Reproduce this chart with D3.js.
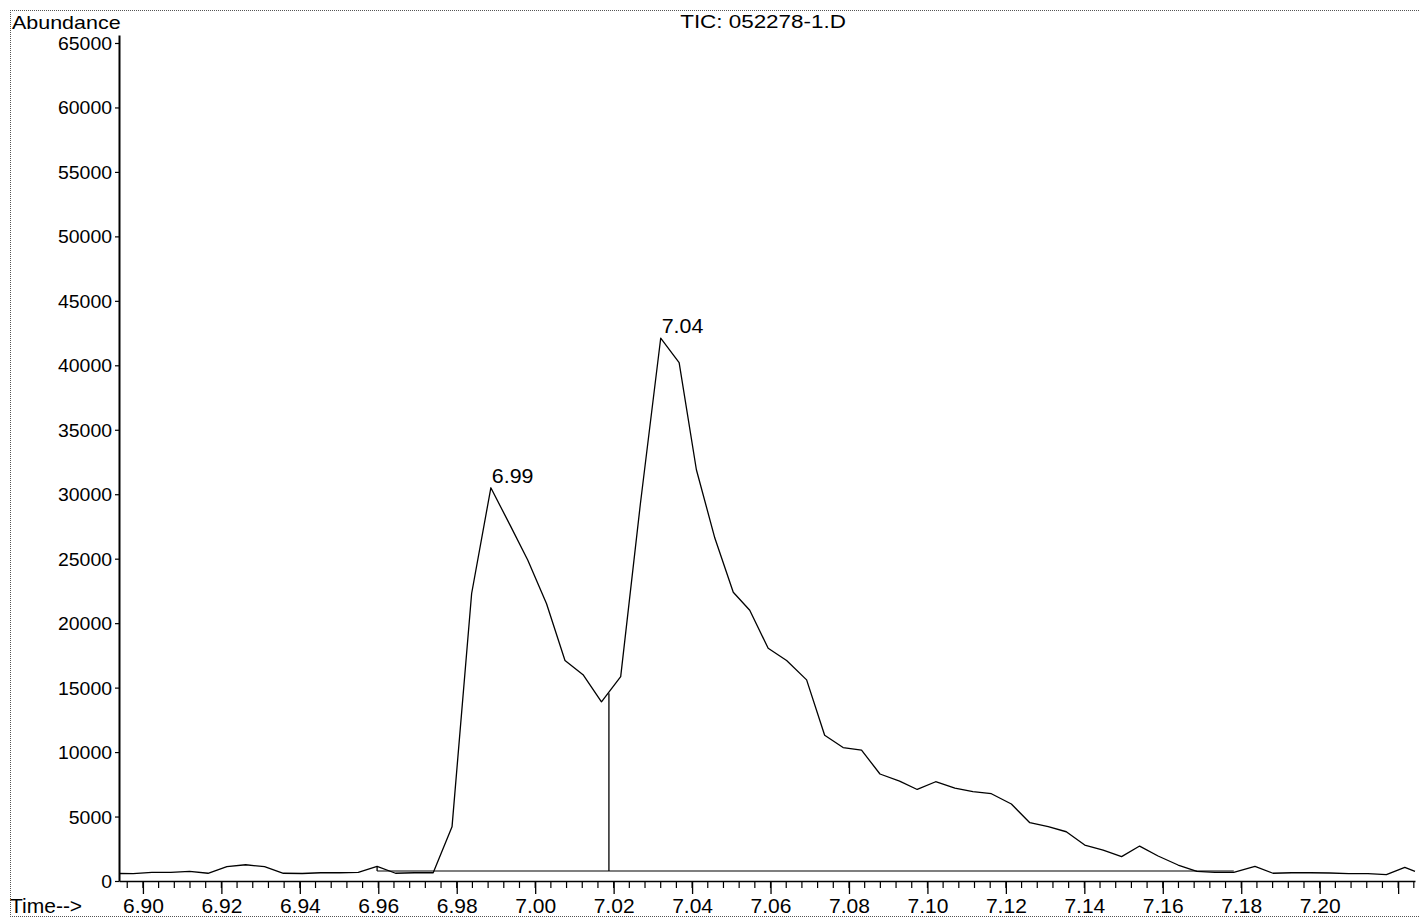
<!DOCTYPE html>
<html><head><meta charset="utf-8">
<script src="https://cdn.jsdelivr.net/npm/d3@7"></script>
<style>
html,body{margin:0;padding:0;background:#fff;}
svg{display:block;}
text{font-family:"Liberation Sans",Arial,Helvetica,sans-serif;fill:#000;}
</style></head><body>
<svg id="chart" width="1420" height="918"></svg>
<script>
// ---- data ----
const times = [6.8939,6.8975,6.9023,6.9071,6.9119,6.9166,6.9214,6.9262,6.9310,6.9358,
  6.9406,6.9453,6.9501,6.9549,6.9597,6.9644,6.9692,6.9740,6.9788,6.9838,
  6.9887,6.9936,6.9981,7.0029,7.0076,7.0122,7.0169,7.0218,7.0268,7.0320,
  7.0367,7.0411,7.0458,7.0505,7.0547,7.0594,7.0641,7.0692,7.0738,7.0785,
  7.0832,7.0879,7.0929,7.0974,7.1021,7.1070,7.1116,7.1163,7.1214,7.1261,
  7.1308,7.1354,7.1401,7.1448,7.1495,7.1541,7.1588,7.1639,7.1687,7.1733,
  7.1781,7.1835,7.1881,7.1929,7.1977,7.2026,7.2074,7.2123,7.2170,7.2217,7.2243];
const abundance = [580,570,670,670,750,600,1110,1260,1110,600,
  580,640,640,675,1140,600,640,640,4200,22300,
  30500,27600,24900,21500,17100,16000,13900,15850,29200,42100,
  40200,31900,26600,22400,21000,18050,17100,15600,11300,10350,
  10150,8300,7750,7100,7700,7200,6930,6770,5970,4520,
  4210,3820,2790,2400,1890,2710,1940,1240,740,675,
  675,1140,600,640,640,620,570,570,490,1060,740];
const yTickValues = [0,5000,10000,15000,20000,25000,30000,35000,40000,45000,50000,55000,60000,65000];
const xMajorTicks = [6.90,6.92,6.94,6.96,6.98,7.00,7.02,7.04,7.06,7.08,7.10,7.12,7.14,7.16,7.18,7.20,7.22];
const xTickLabels = ["6.90","6.92","6.94","6.96","6.98","7.00","7.02","7.04","7.06","7.08","7.10","7.12","7.14","7.16","7.18","7.20",""];
const peakTimes = [6.9887, 7.0320];
const peakAbund = [30500, 42100];
const peakLabels = ["6.99", "7.04"];
const baselineTimes = [6.9597, 7.1781];
const baselineAbund = [770, 770];
const dropTimes = [6.9597, 7.0188];
const dropTops = [1140, 14560];
const titleText = "TIC: 052278-1.D";
const yAxisTitle = "Abundance";
const xAxisTitle = "Time-->";

// ---- drawing ----
const svg = d3.select("#chart");
const x = d3.scaleLinear().domain([6.8939, 7.2243]).range([119, 1415]);
const y = d3.scaleLinear().domain([0, 65620]).range([881, 35]);

function stretch(sel, sx) {
  sel.each(function() {
    const t = d3.select(this);
    const tx = +t.attr("x") || 0;
    const ty = +t.attr("y") || 0;
    t.attr("x", 0).attr("y", 0).attr("transform", `translate(${tx},${ty}) scale(${sx},1)`);
  });
}

// dotted frame
const frame = svg.append("g").attr("stroke", "#555").attr("stroke-width", 1).attr("stroke-dasharray", "1,1");
frame.append("line").attr("x1", 10).attr("x2", 1419).attr("y1", 10.5).attr("y2", 10.5);
frame.append("line").attr("x1", 10.5).attr("x2", 10.5).attr("y1", 10).attr("y2", 917);
frame.append("line").attr("x1", 10).attr("x2", 1419).attr("y1", 916.5).attr("y2", 916.5);

// y axis
const yAxis = svg.append("g").attr("transform", "translate(119,0)")
  .call(d3.axisLeft(y).tickValues(yTickValues).tickSize(4).tickSizeOuter(0).tickPadding(3).tickFormat(d3.format("d")));
yAxis.select(".domain").attr("stroke-width", 2);
yAxis.selectAll(".tick line").attr("stroke-width", 1.2);
yAxis.selectAll("text").attr("font-size", 18).attr("font-family", '"Liberation Sans",Arial,sans-serif').attr("dy", "0.36em");
stretch(yAxis.selectAll("text"), 1.08);

// x axis
const xAxis = svg.append("g").attr("transform", "translate(0,881)")
  .call(d3.axisBottom(x).tickValues(xMajorTicks).tickSize(13).tickSizeOuter(0).tickPadding(4)
    .tickFormat((d, i) => xTickLabels[i]));
xAxis.select(".domain").attr("stroke-width", 1.5);
xAxis.selectAll(".tick line").attr("stroke-width", 1.3);
xAxis.selectAll("text").attr("font-size", 21).attr("font-family", '"Liberation Sans",Arial,sans-serif');
// minor ticks every 0.004
const minor = d3.range(0, 84).map(i => 6.896 + i * 0.004).filter(v => v >= 6.8939 && v <= 7.2245);
svg.append("g").selectAll("line").data(minor).join("line")
  .attr("x1", d => x(d)).attr("x2", d => x(d)).attr("y1", 881).attr("y2", 888)
  .attr("stroke", "#000").attr("stroke-width", 1.2);

// integration baseline and drop lines
svg.append("line")
  .attr("x1", x(baselineTimes[0])).attr("x2", x(baselineTimes[1]))
  .attr("y1", y(baselineAbund[0])).attr("y2", y(baselineAbund[1]))
  .attr("stroke", "#000").attr("stroke-width", 1.1);
svg.append("g").selectAll("line").data(dropTimes).join("line")
  .attr("x1", d => x(d)).attr("x2", d => x(d))
  .attr("y1", (d, i) => y(dropTops[i])).attr("y2", y(baselineAbund[0]))
  .attr("stroke", "#000").attr("stroke-width", 1.3);

// chromatogram trace
const pts = times.map((t, i) => ({t, a: abundance[i]}));
svg.append("path").datum(pts)
  .attr("fill", "none").attr("stroke", "#000").attr("stroke-width", 1.3).attr("stroke-linejoin", "round")
  .attr("d", d3.line().x(d => x(d.t)).y(d => y(d.a)));

// peak labels
const pl = svg.append("g").selectAll("text").data(peakLabels).join("text")
  .attr("x", (d, i) => x(peakTimes[i]) + 1)
  .attr("y", (d, i) => y(peakAbund[i]) - 5)
  .attr("font-size", 20).text(d => d);
stretch(pl, 1.07);

// titles
const t1 = svg.append("text").attr("x", 12).attr("y", 29).attr("font-size", 19).text(yAxisTitle);
stretch(t1, 1.13);
const t2 = svg.append("text").attr("x", 763).attr("y", 28).attr("font-size", 19).attr("text-anchor", "middle").text(titleText);
stretch(t2, 1.18);
const t3 = svg.append("text").attr("x", 10).attr("y", 912.5).attr("font-size", 21).text(xAxisTitle);
</script>
</body></html>
